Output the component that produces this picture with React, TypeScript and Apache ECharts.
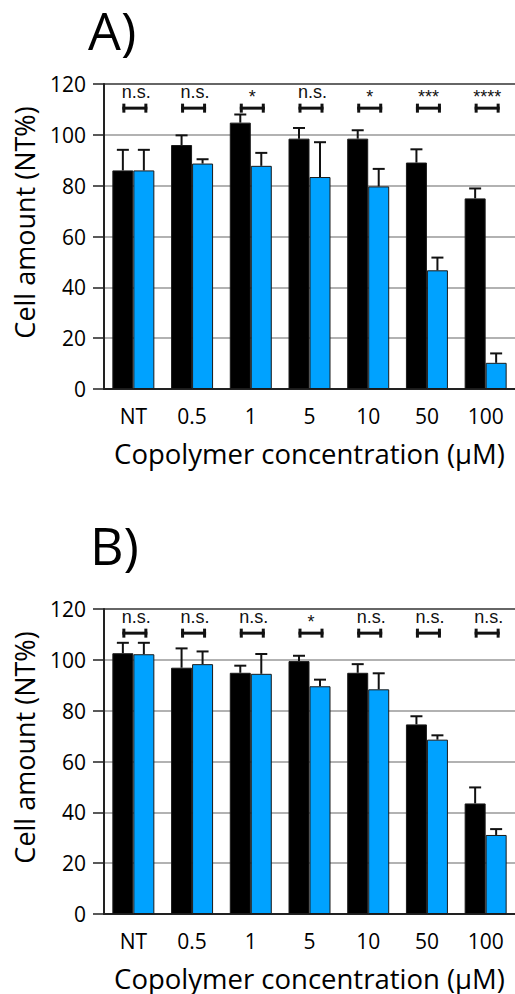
import React, { useEffect, useRef } from "react";
import * as echarts from "echarts";

const categories = ["NT", "0.5", "1", "5", "10", "50", "100"];
const yTicks = { min: 0, max: 120, interval: 20 };

const aBlack = [86, 96, 104.8, 98.5, 98.5, 89.1, 75.0];
const aBlackErr = [8.1, 3.8, 3.2, 4.2, 3.3, 5.2, 3.9];
const aBlue = [86, 88.7, 87.8, 83.4, 79.7, 46.7, 10.3];
const aBlueErr = [8.1, 1.7, 5.1, 13.7, 6.9, 5.0, 3.7];
const aSig = ["n.s.", "n.s.", "*", "n.s.", "*", "***", "****"];

const bBlack = [102.6, 96.9, 94.9, 99.5, 94.9, 74.6, 43.5];
const bBlackErr = [4.1, 7.6, 2.8, 2.1, 3.4, 3.2, 6.3];
const bBlue = [102.2, 98.3, 94.5, 89.6, 88.4, 68.6, 31.1];
const bBlueErr = [4.5, 5.0, 7.8, 2.6, 6.3, 1.7, 2.3];
const bSig = ["n.s.", "n.s.", "n.s.", "*", "n.s.", "n.s.", "n.s."];

const bracketLevel = 110.5;
const sigTextLevel = 116.7;

const panelTitles = ["A)", "B)"];
const xAxisName = "Copolymer concentration (µM)";
const yAxisName = "Cell amount (NT%)";

const FONT = "Open Sans";
const BLUE = "#00A2FF";
const BAR_W = 21;

function errSeries(vals: number[], errs: number[], offset: number, axis: number) {
  return {
    type: "custom",
    xAxisIndex: axis,
    yAxisIndex: axis,
    z: 5,
    silent: true,
    data: vals.map((v, i) => [i, v, errs[i]]),
    encode: { x: 0, y: 1 },
    renderItem: (params: any, api: any) => {
      const i = api.value(0);
      const v = api.value(1);
      const e = api.value(2);
      const base = api.coord([i, v]);
      const top = api.coord([i, v + e]);
      const x = base[0] + offset;
      const st = { stroke: "#111", lineWidth: 2 };
      return {
        type: "group",
        children: [
          { type: "line", shape: { x1: x, y1: base[1], x2: x, y2: top[1] }, style: st },
          { type: "line", shape: { x1: x - 6, y1: top[1], x2: x + 6, y2: top[1] }, style: st },
        ],
      };
    },
  };
}

function sigSeries(labels: string[], axis: number) {
  return {
    type: "custom",
    xAxisIndex: axis,
    yAxisIndex: axis,
    z: 6,
    silent: true,
    data: labels.map((_, i) => [i, bracketLevel, sigTextLevel]),
    encode: { x: 0, y: 1 },
    renderItem: (params: any, api: any) => {
      const i = api.value(0);
      const p = api.coord([i, api.value(1)]);
      const t = api.coord([i, api.value(2)]);
      const cx = p[0] + 1.5;
      const y = p[1];
      const label = labels[params.dataIndex];
      const star = label.indexOf("*") >= 0;
      const st = { stroke: "#111", lineWidth: 3 };
      return {
        type: "group",
        children: [
          { type: "line", shape: { x1: cx - 12.5, y1: y, x2: cx + 12.5, y2: y }, style: st },
          { type: "line", shape: { x1: cx - 11, y1: y - 4.5, x2: cx - 11, y2: y + 4.5 }, style: st },
          { type: "line", shape: { x1: cx + 11, y1: y - 4.5, x2: cx + 11, y2: y + 4.5 }, style: st },
          {
            type: "text",
            x: cx + (star ? 0 : 1.5),
            y: t[1] + (star ? 5 : 0),
            style: {
              text: label,
              fill: "#111",
              fontSize: 18,
              fontFamily: "Liberation Sans",
              align: "center",
              verticalAlign: "middle",
            },
          },
        ],
      };
    },
  };
}

export default function App() {
  const ref = useRef<HTMLDivElement>(null);
  useEffect(() => {
    document.body.style.margin = "0";
    const chart = echarts.init(ref.current!, null, { renderer: "svg" });
    const grids = [
      { left: 104, top: 84, width: 414, height: 305 },
      { left: 104, top: 609, width: 414, height: 305 },
    ];
    const xAxes = grids.map((_, k) => ({
      type: "category",
      gridIndex: k,
      data: categories,
      name: xAxisName,
      nameLocation: "middle",
      nameGap: 49,
      nameTextStyle: { fontFamily: FONT, fontSize: 27.5, color: "#000", lineHeight: 30 },
      axisLine: { lineStyle: { color: "#222", width: 2 } },
      axisTick: { alignWithLabel: true, length: 9, lineStyle: { color: "#222", width: 2 } },
      axisLabel: { fontFamily: FONT, fontSize: 21, color: "#000", margin: 16 },
      splitLine: { show: false },
    }));
    const yAxes = grids.map((_, k) => ({
      type: "value",
      gridIndex: k,
      min: yTicks.min,
      max: yTicks.max,
      interval: yTicks.interval,
      name: yAxisName,
      nameLocation: "middle",
      nameGap: 66,
      nameRotate: 90,
      nameTextStyle: { fontFamily: FONT, fontSize: 27, color: "#000", padding: [0, 0, 0, 28] },
      axisLine: { show: true, lineStyle: { color: "#222", width: 2 } },
      axisTick: { show: true, length: 11, lineStyle: { color: "#222", width: 1.5 } },
      axisLabel: { fontFamily: FONT, fontSize: 21, color: "#000", margin: 18 },
      splitLine: {
        show: true,
        lineStyle: { color: ["#222", "#999", "#999", "#999", "#999", "#999", "#333"], width: 1.6 },
      },
    }));
    const bar = (data: number[], color: string, axis: number) => ({
      type: "bar",
      xAxisIndex: axis,
      yAxisIndex: axis,
      data,
      barWidth: BAR_W,
      barGap: "0%",
      itemStyle: { color, borderColor: "#1a1a1a", borderWidth: 1 },
      z: 2,
    });
    chart.setOption({
      animation: false,
      textStyle: { fontFamily: FONT },
      grid: grids,
      xAxis: xAxes,
      yAxis: yAxes,
      graphic: [
        {
          type: "text",
          left: 88,
          top: 3,
          style: { text: panelTitles[0], fontFamily: FONT, fontSize: 52, fill: "#000" },
        },
        {
          type: "text",
          left: 90,
          top: 518,
          style: { text: panelTitles[1], fontFamily: FONT, fontSize: 52, fill: "#000" },
        },
      ],
      series: [
        bar(aBlack, "#000", 0),
        bar(aBlue, BLUE, 0),
        errSeries(aBlack, aBlackErr, -BAR_W / 2, 0),
        errSeries(aBlue, aBlueErr, BAR_W / 2, 0),
        sigSeries(aSig, 0),
        bar(bBlack, "#000", 1),
        bar(bBlue, BLUE, 1),
        errSeries(bBlack, bBlackErr, -BAR_W / 2, 1),
        errSeries(bBlue, bBlueErr, BAR_W / 2, 1),
        sigSeries(bSig, 1),
      ],
    });
    return () => chart.dispose();
  }, []);
  return (
    <div
      ref={ref}
      style={{ position: "absolute", left: 0, top: 0, width: 515, height: 994 }}
    />
  );
}
